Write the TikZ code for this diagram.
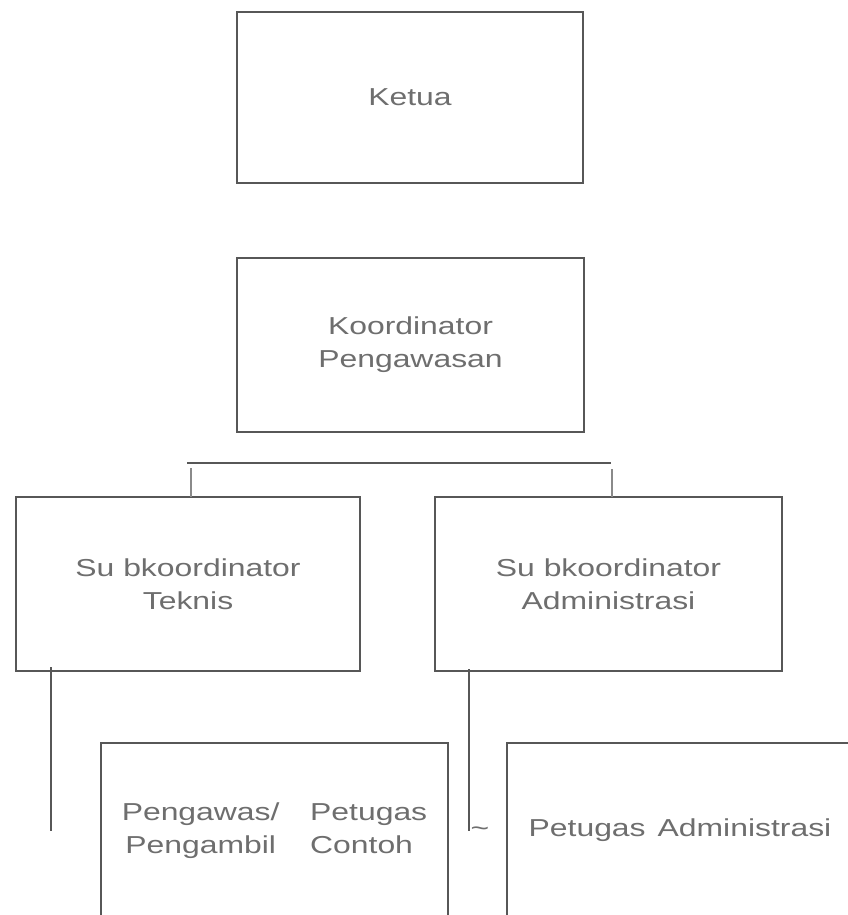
\documentclass[tikz,border=0pt]{standalone}
\usepackage{fontspec}
\setmainfont{Liberation Sans}[FakeStretch=1.3]
\usepackage{tikz}
\usetikzlibrary{calc}
\definecolor{linegrey}{HTML}{575757}
\definecolor{textgrey}{HTML}{6E6E6E}
\definecolor{dropgrey}{HTML}{8A8A8A}
\tikzset{
  unit/.style={
    rectangle, draw=linegrey, line width=1.5pt,
    minimum width=260pt, minimum height=130.5pt,
    inner sep=0pt, outer sep=0pt,
    align=center, text=textgrey,
    font=\fontsize{18.4pt}{24.75pt}\selectfont
  },
  link/.style={draw=linegrey, line width=1.5pt},
  drop/.style={draw=dropgrey, line width=0.8pt},
  mark text/.style={text=textgrey, inner sep=0pt,
    font=\fontsize{18.4pt}{24.75pt}\selectfont}
}

\begin{document}
\begin{tikzpicture}[x=0.75pt, y=-0.75pt]
  \useasboundingbox (0,0) rectangle (848,915);
  \clip (0,0) rectangle (848,915);

  \node[unit, minimum height=128.25pt] (ketua) at (410,97.5) {Ketua};
  \node[unit] (koord) at (410.5,345) {Koordinator\\Pengawasan};

  \node[unit, minimum width=258pt] (teknis) at (188,584)
    {Su bkoordinator\\Teknis};
  \node[unit] (admin) at (608.5,584)
    {Su bkoordinator\\Administrasi};

  \node[unit] (pengawas) at (274.5,830)
    {\begin{tabular}{@{}c@{\hspace{23pt}}l@{}}
      Pengawas/ & Petugas\\
      Pengambil & Contoh
    \end{tabular}};
  \node[unit] (petadm) at (680,830) {Petugas\hspace{9pt}Administrasi};

  % bar under the koordinator
  \coordinate (bar-l) at (187,463);
  \coordinate (bar-r) at (611,463);
  \draw[link] (bar-l) -- (bar-r);

  \coordinate (tk-top) at (191,468);
  \coordinate (ad-top) at (612,469);
  \draw[drop] (tk-top) -- (tk-top |- teknis.north);
  \draw[drop] (ad-top) -- (ad-top |- admin.north);

  % lines going down from the subkoordinators
  \coordinate (tk-end) at (51,831);
  \coordinate (ad-end) at (469,831);
  \draw[link] ([yshift=3pt]tk-end |- teknis.south) -- (tk-end);
  \draw[link] ([yshift=1.5pt]ad-end |- admin.south) -- (ad-end);

  \node[mark text] (tilde) at (480,832) {\textasciitilde};
\end{tikzpicture}
\end{document}
